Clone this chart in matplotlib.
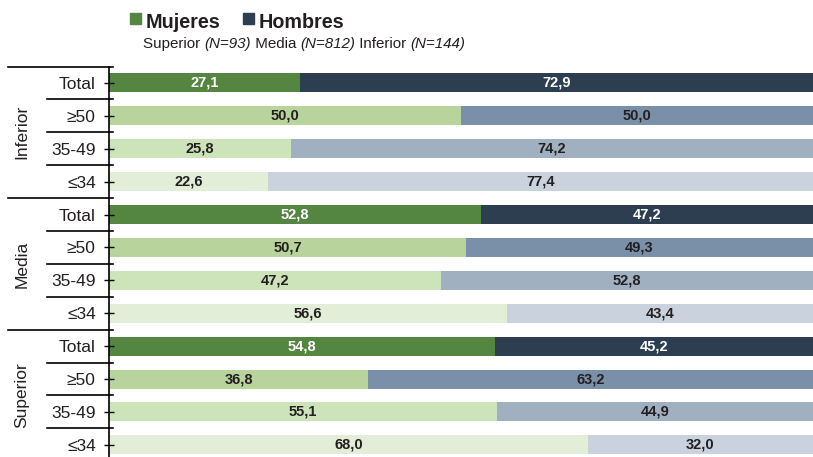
import matplotlib; matplotlib.use("Agg")
import matplotlib.pyplot as plt
from matplotlib.patches import Rectangle
from matplotlib.transforms import blended_transform_factory

plt.rcParams['font.family'] = ['Liberation Sans', 'DejaVu Sans']

groups = ["Inferior", "Media", "Superior"]
ages = ["Total", "≥50", "35-49", "≤34"]
mujeres = [27.1, 50.0, 25.8, 22.6, 52.8, 50.7, 47.2, 56.6, 54.8, 36.8, 55.1, 68.0]
hombres = [72.9, 50.0, 74.2, 77.4, 47.2, 49.3, 52.8, 43.4, 45.2, 63.2, 44.9, 32.0]
subtitle = [("Superior ", "normal"), ("(N=93)", "italic"), (" Media ", "normal"),
            ("(N=812)", "italic"), (" Inferior ", "normal"), ("(N=144)", "italic")]

col_m = ["#548642", "#b8d49c", "#cde3b9", "#e2eed8"]
col_h = ["#2d3e50", "#7a90a8", "#a0b0c1", "#cad3dd"]
txt_col = ["white", "#231f20", "#231f20", "#231f20"]
ink = "#231f20"

W, H = 813, 457
fig = plt.figure(figsize=(W/100, H/100), dpi=100)
top_px, bot_px = 66.5, 66.5 + 12*32.9
ax = fig.add_axes([109/W, 1 - bot_px/H, 1 - 109/W, (bot_px - top_px)/H])

n = len(mujeres)
ys = list(range(n))
for i in ys:
    k = i % 4
    ax.barh(i, mujeres[i], height=0.58, color=col_m[k], lw=0)
    ax.barh(i, hombres[i], left=mujeres[i], height=0.58, color=col_h[k], lw=0)
    for left, v in [(0, mujeres[i]), (mujeres[i], hombres[i])]:
        ax.text(left + v/2, i, f"{v:.1f}".replace(".", ","), ha="center", va="center",
                fontsize=10.5, fontweight="bold", color=txt_col[k])

ax.set_xlim(0, 100)
ax.set_ylim(n - 0.5, -0.5)
ax.set_yticks(ys)
ax.set_yticklabels(ages * len(groups), fontsize=12.5, color=ink)
ax.tick_params(axis="y", direction="inout", length=7, width=1, pad=6)
ax.set_xticks([])
for s in ["top", "right", "bottom"]:
    ax.spines[s].set_visible(False)
ax.spines["left"].set_linewidth(1.2)

# separators left of the axis
tr = blended_transform_factory(fig.transFigure, ax.transData)
for g in range(len(groups)):
    y0 = g*4 - 0.5
    ax.plot([8/W, 113/W], [y0, y0], color="black", lw=1.2, transform=tr, clip_on=False)
    for r in range(1, 4):
        ax.plot([47/W, 113/W], [y0 + r, y0 + r], color="black", lw=1.2, transform=tr, clip_on=False)
    ax.text(22/W, g*4 + 1.5, groups[g], rotation=90, ha="center", va="center",
            fontsize=12.5, color=ink, transform=tr)

# legend
for x, c, lab in [(130, col_m[0], "Mujeres"), (243, col_h[0], "Hombres")]:
    fig.patches.append(Rectangle((x/W, 1 - 24/H), 11/W, 11/H, color=c, transform=fig.transFigure))
    fig.text((x + 16)/W, 1 - 28/H, lab, fontsize=14.2, fontweight="bold", color=ink)

# subtitle: chain pieces with alternating styles
prev = fig.text(143/W, 1 - 51/H, subtitle[0][0], fontsize=10.9, style=subtitle[0][1],
                color=ink, va="bottom")
for s, st in subtitle[1:]:
    prev = fig.add_artist(matplotlib.text.Annotation(s, xy=(1, 0), xycoords=prev, va="bottom",
                                                     ha="left", fontsize=10.9, style=st, color=ink))

fig.savefig("out.png", dpi=100)
